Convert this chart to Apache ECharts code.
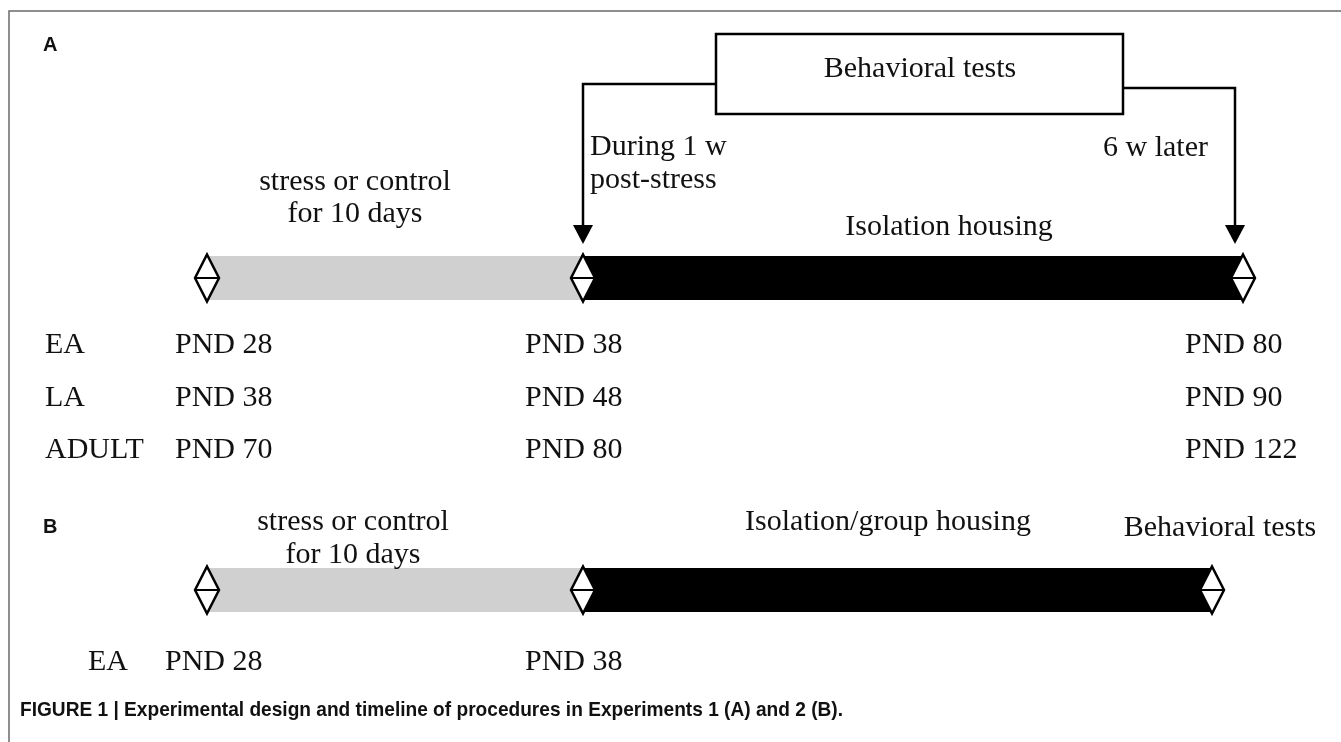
<!DOCTYPE html>
<html lang="en">
<head>
<meta charset="UTF-8">
<script src="https://cdn.jsdelivr.net/npm/echarts@6/dist/echarts.min.js"></script>
<style>
  html, body { margin: 0; padding: 0; background: #fff; }
  #main { width: 1341px; height: 742px; }
</style>
</head>
<body>
<div id="main"></div>
<script>
// ---- data: Experiment 1 (panel A) ----
var groupsA = ['EA', 'LA', 'ADULT'];
var pndStartA = [28, 38, 70];
var pndStressEndA = [38, 48, 80];
var pndTestEndA = [80, 90, 122];
var phaseLabelsA = ['stress or control\nfor 10 days', 'Isolation housing'];
var testTimesA = ['During 1 w\npost-stress', '6 w later'];
var testBoxLabel = 'Behavioral tests';

// ---- data: Experiment 2 (panel B) ----
var groupsB = ['EA'];
var pndStartB = [28];
var pndStressEndB = [38];
var phaseLabelsB = ['stress or control\nfor 10 days', 'Isolation/group housing', 'Behavioral tests'];

var panelLabels = ['A', 'B'];
var caption = 'FIGURE 1 | Experimental design and timeline of procedures in Experiments 1 (A) and 2 (B).';

// ---- layout (axes run over the page, 0..1341 by 0..742) ----
var W = 1341, H = 742;
var serif = "'Liberation Serif', 'Times New Roman', serif";
var sans = "bold 20px 'Liberation Sans', Arial, sans-serif";
var capFont = "bold 21px 'Liberation Sans', Arial, sans-serif";
var capWidth = 823; // caption is set in a condensed face, squeeze to fit
var txtFont = '30px ' + serif;
var barH = 44;
var stopsA = [207, 583, 1243], barYA = 278;
var stopsB = [207, 583, 1212], barYB = 590;
var colXA = [45, 175, 525, 1185];
var rowYA = [345, 398, 450];
var colXB = [88, 165, 525];
var rowYB = [662];
var phaseColors = ['#d0d0d0', '#000000'];

// bars: [x0, x1, yCenter, colour index]
var bars = [
    [stopsA[0], stopsA[1], barYA, 0], [stopsA[1], stopsA[2], barYA, 1],
    [stopsB[0], stopsB[1], barYB, 0], [stopsB[1], stopsB[2], barYB, 1]
];
var diamonds = [];
stopsA.forEach(function (x) { diamonds.push([x, barYA]); });
stopsB.forEach(function (x) { diamonds.push([x, barYB]); });

// arrows from the test box down to the timeline: [boxX, yTop, x, yTip]
var arrows = [[716, 84, 583, 244], [1123, 88, 1235, 244]];
var boxes = [[716, 34, 1123, 114]];

var texts = [];
function addText(t, x, y, font, align, lh, sx) {
    texts.push({ text: t, x: x, y: y, font: font, align: align || 'left', lh: lh || 32, sx: sx || 1 });
}
addText(panelLabels[0], 43, 45, sans);
addText(panelLabels[1], 43, 527, sans);
addText(testBoxLabel, 920, 69, txtFont, 'center');
addText(testTimesA[0], 590, 164, txtFont, 'left', 33);
addText(testTimesA[1], 1103, 148, txtFont, 'left');
addText(phaseLabelsA[0], 355, 198, txtFont, 'center', 32);
addText(phaseLabelsA[1], 949, 227, txtFont, 'center');
groupsA.forEach(function (g, i) {
    addText(g, colXA[0], rowYA[i], txtFont);
    addText('PND ' + pndStartA[i], colXA[1], rowYA[i], txtFont);
    addText('PND ' + pndStressEndA[i], colXA[2], rowYA[i], txtFont);
    addText('PND ' + pndTestEndA[i], colXA[3], rowYA[i], txtFont);
});
addText(phaseLabelsB[0], 353, 539, txtFont, 'center', 33);
addText(phaseLabelsB[1], 888, 522, txtFont, 'center');
addText(phaseLabelsB[2], 1220, 528, txtFont, 'center');
groupsB.forEach(function (g, i) {
    addText(g, colXB[0], rowYB[i], txtFont);
    addText('PND ' + pndStartB[i], colXB[1], rowYB[i], txtFont);
    addText('PND ' + pndStressEndB[i], colXB[2], rowYB[i], txtFont);
});

var ctx = document.createElement('canvas').getContext('2d');
ctx.font = capFont;
addText(caption, 20, 710, capFont, 'left', 24, capWidth / ctx.measureText(caption).width);

function renderFrame(params, api) {
    var p0 = api.coord([9, 11]);
    var p1 = api.coord([W + 10, H + 10]);
    return { type: 'rect', shape: { x: p0[0], y: p0[1], width: p1[0] - p0[0], height: p1[1] - p0[1] },
        style: { fill: null, stroke: '#6a6a6a', lineWidth: 1.5 } };
}

function renderBar(params, api) {
    var p0 = api.coord([api.value(0), api.value(2) - barH / 2]);
    var p1 = api.coord([api.value(1), api.value(2) + barH / 2]);
    return { type: 'rect', shape: { x: p0[0], y: p0[1], width: p1[0] - p0[0], height: p1[1] - p0[1] },
        style: { fill: phaseColors[api.value(3)] } };
}

function renderDiamond(params, api) {
    var c = api.coord([api.value(0), api.value(1)]);
    var hw = 12, hh = 23.5;
    return { type: 'group', children: [
        { type: 'polygon', shape: { points: [[c[0], c[1] - hh], [c[0] + hw, c[1]], [c[0], c[1] + hh], [c[0] - hw, c[1]]] },
          style: { fill: '#fff', stroke: '#000', lineWidth: 2.5, lineJoin: 'miter' } },
        { type: 'line', shape: { x1: c[0] - hw, y1: c[1], x2: c[0] + hw, y2: c[1] },
          style: { stroke: '#000', lineWidth: 2 } }
    ] };
}

function renderArrow(params, api) {
    var a = api.coord([api.value(0), api.value(1)]);
    var b = api.coord([api.value(2), api.value(1)]);
    var tip = api.coord([api.value(2), api.value(3)]);
    var headH = 19, headW = 10;
    return { type: 'group', children: [
        { type: 'polyline', shape: { points: [a, b, [tip[0], tip[1] - headH + 1]] },
          style: { stroke: '#000', lineWidth: 2.5, fill: null } },
        { type: 'polygon', shape: { points: [[tip[0] - headW, tip[1] - headH], [tip[0] + headW, tip[1] - headH], tip] },
          style: { fill: '#000' } }
    ] };
}

function renderBox(params, api) {
    var p0 = api.coord([api.value(0), api.value(1)]);
    var p1 = api.coord([api.value(2), api.value(3)]);
    return { type: 'rect', shape: { x: p0[0], y: p0[1], width: p1[0] - p0[0], height: p1[1] - p0[1] },
        style: { fill: '#fff', stroke: '#000', lineWidth: 2.5 } };
}

function renderText(params, api) {
    var d = texts[params.dataIndex];
    var p = api.coord([d.x, d.y]);
    return { type: 'text', x: p[0], y: p[1], scaleX: d.sx,
        style: { text: d.text, font: d.font, fill: '#111', align: d.align, verticalAlign: 'middle', lineHeight: d.lh } };
}

var myChart = echarts.init(document.getElementById('main'));
var option = {
    animation: false,
    backgroundColor: '#fff',
    grid: { left: 0, right: 0, top: 0, bottom: 0 },
    xAxis: { type: 'value', min: 0, max: W, show: false },
    yAxis: { type: 'value', min: 0, max: H, inverse: true, show: false },
    series: [
        { type: 'custom', silent: true, clip: false, renderItem: renderFrame, data: [[0, 0]] },
        { type: 'custom', silent: true, clip: false, renderItem: renderBar, data: bars, encode: { x: [0, 1], y: 2 } },
        { type: 'custom', silent: true, clip: false, renderItem: renderDiamond, data: diamonds },
        { type: 'custom', silent: true, clip: false, renderItem: renderArrow, data: arrows, encode: { x: [0, 2], y: [1, 3] } },
        { type: 'custom', silent: true, clip: false, renderItem: renderBox, data: boxes, encode: { x: [0, 2], y: [1, 3] } },
        { type: 'custom', silent: true, clip: false, renderItem: renderText,
          data: texts.map(function (d) { return [d.x, d.y]; }) }
    ]
};
myChart.setOption(option);
</script>
</body>
</html>
